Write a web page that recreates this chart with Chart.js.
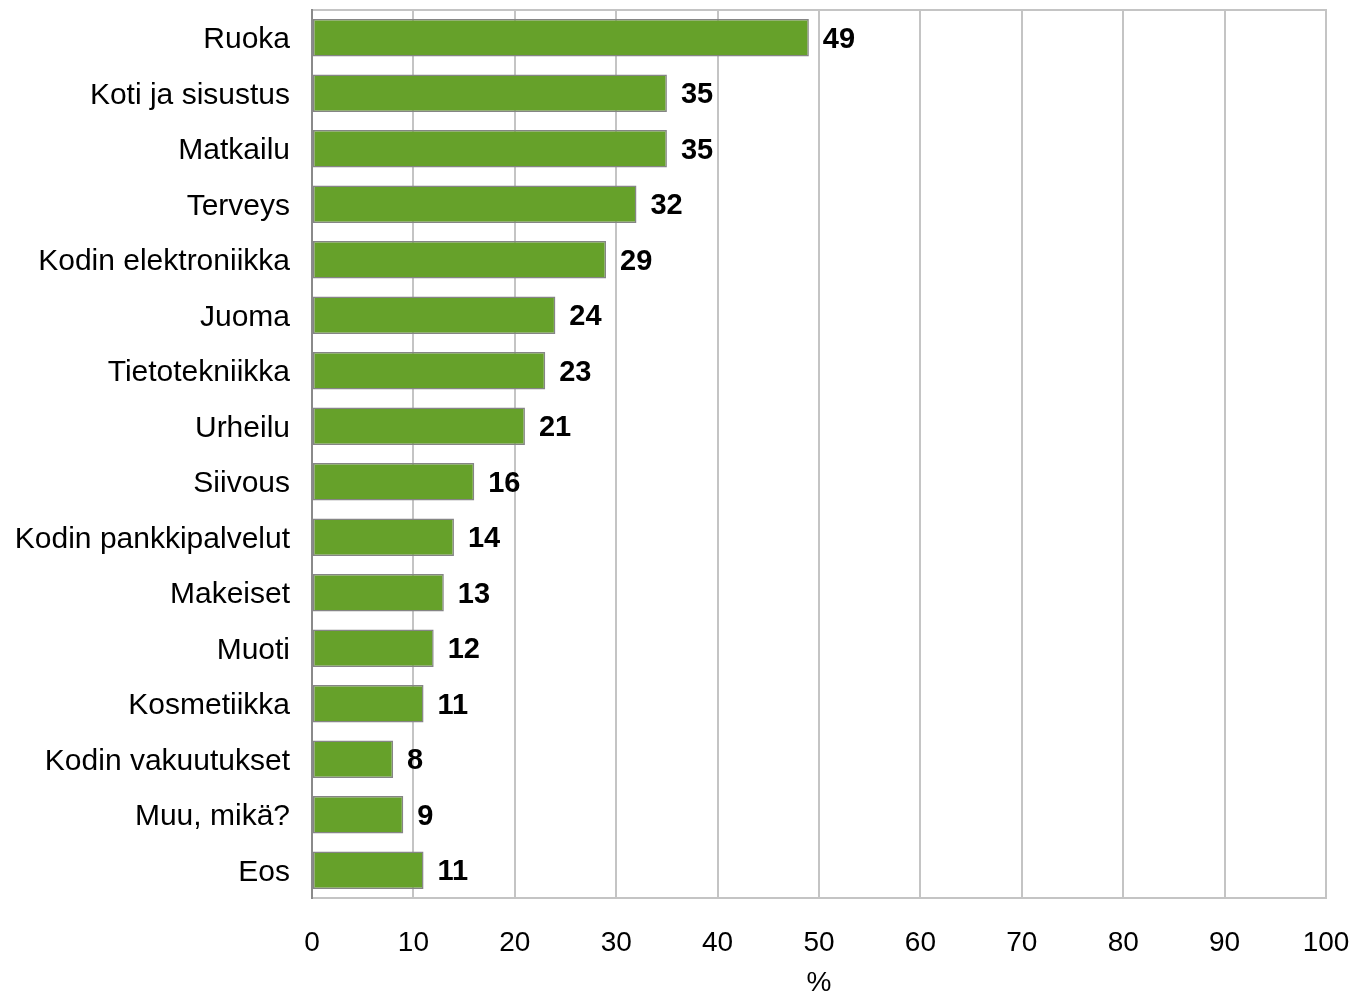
<!DOCTYPE html>
<html>
<head>
<meta charset="utf-8">
<script src="https://cdn.jsdelivr.net/npm/chart.js@4/dist/chart.umd.min.js"></script>
<style>
  html, body { margin: 0; padding: 0; background: #fff; }
  #wrap { width: 1367px; height: 995px; }
</style>
</head>
<body>
<div id="wrap"><canvas id="chart"></canvas></div>
<script>
const categories = [
    'Ruoka', 'Koti ja sisustus', 'Matkailu', 'Terveys', 'Kodin elektroniikka',
    'Juoma', 'Tietotekniikka', 'Urheilu', 'Siivous', 'Kodin pankkipalvelut',
    'Makeiset', 'Muoti', 'Kosmetiikka', 'Kodin vakuutukset', 'Muu, mikä?', 'Eos'
];
const values = [49, 35, 35, 32, 29, 24, 23, 21, 16, 14, 13, 12, 11, 8, 9, 11];
const xTicks = [0, 10, 20, 30, 40, 50, 60, 70, 80, 90, 100];

const FONT = '"Liberation Sans", Arial, sans-serif';

// plot frame drawn behind the bars
const framePlugin = {
    id: 'frame',
    beforeDatasetsDraw(chart) {
        const { ctx, chartArea: a } = chart;
        ctx.save();
        ctx.strokeStyle = '#c4c4c4';
        ctx.lineWidth = 2;
        ctx.strokeRect(a.left, a.top, a.right - a.left, a.bottom - a.top);
        ctx.strokeStyle = '#8a8a8a';
        ctx.beginPath();
        ctx.moveTo(a.left, a.top - 1);
        ctx.lineTo(a.left, a.bottom + 1);
        ctx.stroke();
        ctx.restore();
    }
};

// bold value next to each bar end
const valueLabels = {
    id: 'valueLabels',
    afterDatasetsDraw(chart) {
        const ctx = chart.ctx;
        const meta = chart.getDatasetMeta(0);
        ctx.save();
        ctx.font = 'bold 29px ' + FONT;
        ctx.fillStyle = '#000';
        ctx.textAlign = 'left';
        ctx.textBaseline = 'middle';
        meta.data.forEach((bar, i) => {
            ctx.fillText(String(values[i]), bar.x + 14, bar.y + 2);
        });
        ctx.restore();
    }
};

// keep the label overhang from shrinking the plot
function noOverhang(scale) {
    scale.paddingTop = 0;
    scale.paddingBottom = 0;
    scale.paddingLeft = 0;
    scale.paddingRight = 0;
}

new Chart(document.getElementById('chart'), {
    type: 'bar',
    data: {
        labels: categories,
        datasets: [{
            data: values,
            backgroundColor: '#66a12a',
            borderColor: '#858585',
            borderWidth: 1.5,
            borderSkipped: false,
            categoryPercentage: 1,
            barPercentage: 0.68
        }]
    },
    options: {
        indexAxis: 'y',
        responsive: true,
        maintainAspectRatio: false,
        animation: false,
        layout: { autoPadding: false, padding: { top: 10, right: 41, left: 0, bottom: 0 } },
        plugins: {
            legend: { display: false },
            tooltip: { enabled: false }
        },
        scales: {
            x: {
                min: 0,
                max: 100,
                afterBuildTicks: scale => { scale.ticks = xTicks.map(v => ({ value: v })); },
                afterFit: scale => { scale.height = 97; noOverhang(scale); },
                grid: { color: '#c4c4c4', lineWidth: 2, drawTicks: false },
                border: { display: false },
                ticks: {
                    color: '#000',
                    padding: 28,
                    font: { family: FONT, size: 28 }
                },
                title: {
                    display: true,
                    text: '%',
                    color: '#000',
                    padding: { top: 0, bottom: -5 },
                    font: { family: FONT, size: 28 }
                }
            },
            y: {
                afterFit: scale => { scale.width = 312; noOverhang(scale); },
                grid: { display: false, drawTicks: false },
                border: { display: false },
                ticks: {
                    color: '#000',
                    padding: 22,
                    labelOffset: 2,
                    autoSkip: false,
                    font: { family: FONT, size: 30 }
                }
            }
        }
    },
    plugins: [framePlugin, valueLabels]
});
</script>
</body>
</html>
